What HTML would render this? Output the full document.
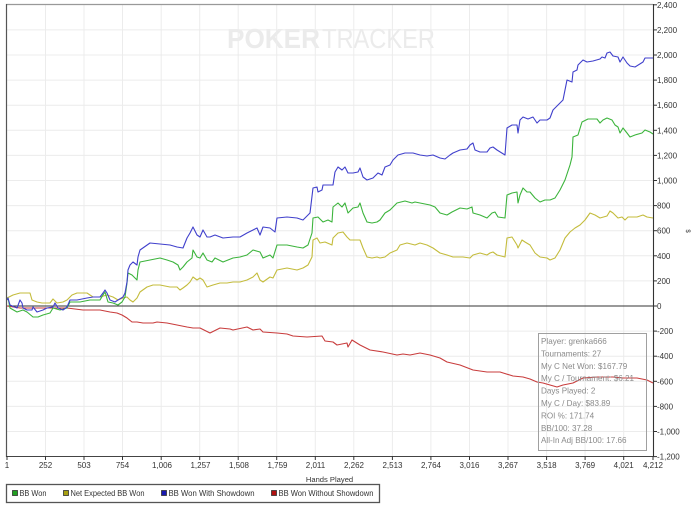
<!DOCTYPE html>
<html><head><meta charset="utf-8"><style>
html,body{margin:0;padding:0;background:#fff;}
svg{display:block;font-family:"Liberation Sans",sans-serif;}
</style></head><body>
<svg width="700" height="509" viewBox="0 0 700 509" xmlns="http://www.w3.org/2000/svg">
<rect width="700" height="509" fill="#fff"/>
<!-- watermark -->
<text x="227" y="48" font-size="28" font-weight="bold" fill="#ebebeb" textLength="93" lengthAdjust="spacingAndGlyphs">POKER</text>
<text x="322" y="48" font-size="28" fill="#ebebeb" textLength="113" lengthAdjust="spacingAndGlyphs">TRACKER</text>
<!-- horizontal gridlines -->
<g stroke="#ececec" stroke-width="1">
<line x1="7" x2="653" y1="29.9" y2="29.9"/><line x1="7" x2="653" y1="55" y2="55"/>
<line x1="7" x2="653" y1="80.1" y2="80.1"/><line x1="7" x2="653" y1="105.2" y2="105.2"/>
<line x1="7" x2="653" y1="130.3" y2="130.3"/><line x1="7" x2="653" y1="155.4" y2="155.4"/>
<line x1="7" x2="653" y1="180.5" y2="180.5"/><line x1="7" x2="653" y1="205.6" y2="205.6"/>
<line x1="7" x2="653" y1="230.7" y2="230.7"/><line x1="7" x2="653" y1="255.8" y2="255.8"/>
<line x1="7" x2="653" y1="280.9" y2="280.9"/><line x1="7" x2="653" y1="331.1" y2="331.1"/>
<line x1="7" x2="653" y1="356.2" y2="356.2"/><line x1="7" x2="653" y1="381.3" y2="381.3"/>
<line x1="7" x2="653" y1="406.4" y2="406.4"/><line x1="7" x2="653" y1="431.5" y2="431.5"/>
</g>
<!-- vertical gridlines -->
<g stroke="#ececec" stroke-width="1">
<line y1="5" y2="456" x1="45.5" x2="45.5"/><line y1="5" y2="456" x1="84" x2="84"/>
<line y1="5" y2="456" x1="122.5" x2="122.5"/><line y1="5" y2="456" x1="161.2" x2="161.2"/>
<line y1="5" y2="456" x1="199.7" x2="199.7"/><line y1="5" y2="456" x1="238.2" x2="238.2"/>
<line y1="5" y2="456" x1="276.7" x2="276.7"/><line y1="5" y2="456" x1="315.3" x2="315.3"/>
<line y1="5" y2="456" x1="353.8" x2="353.8"/><line y1="5" y2="456" x1="392.4" x2="392.4"/>
<line y1="5" y2="456" x1="430.9" x2="430.9"/><line y1="5" y2="456" x1="469.5" x2="469.5"/>
<line y1="5" y2="456" x1="508" x2="508"/><line y1="5" y2="456" x1="546.6" x2="546.6"/>
<line y1="5" y2="456" x1="585.1" x2="585.1"/><line y1="5" y2="456" x1="623.7" x2="623.7"/>
</g>
<!-- zero line -->
<line x1="7" x2="653" y1="306" y2="306" stroke="#333" stroke-width="1.1"/>
<!-- series -->
<g fill="none" stroke-width="1.1" stroke-linejoin="round">
<polyline stroke="#c83c3c" points="7,306 20,308 33,308 67,308 83,310 100,310 110,312 117,313 122,315 127,318 132,322 137,322 143,323 153,323 157,322 167,323 177,325 187,327 193,328 200,328 210,333 220,328 230,329 233,330 247,327 253,330 260,329 263,332 277,333 287,334 293,336 307,337 322,336 325,341 333,342 337,345 347,343 348,347 352,340 360,345 370,350 383,352 397,355 403,354 410,355 420,353 430,355 440,358 447,362 460,365 473,370 487,372 500,372 513,376 523,377 530,379 537,382 543,383 550,385 557,387 563,385 573,383 583,378 597,377 613,377 623,378 637,378 647,380 653,383"/>
<polyline stroke="#c4bc3c" points="7,298 13,295 20,293 30,293 32,300 37,302 42,303 50,303 53,299 57,303 63,302 67,300 72,295 77,293 87,293 93,297 100,297 107,295 113,297 118,300 123,298 127,297 130,300 133,302 137,298 140,292 147,287 153,285 160,285 170,287 177,287 180,290 183,288 187,285 190,282 193,277 197,280 200,278 203,280 207,287 213,285 220,283 227,283 233,282 240,282 247,280 253,277 257,273 260,280 263,282 270,277 273,278 277,270 287,268 297,270 303,268 308,265 312,257 313,240 317,238 320,243 325,242 332,245 333,238 338,233 343,232 347,237 350,240 360,240 363,248 367,257 372,258 377,257 380,258 385,257 390,253 397,250 400,245 407,243 415,245 420,243 427,245 433,248 440,253 447,255 453,257 463,257 470,258 473,255 480,253 487,255 490,253 493,252 497,255 505,257 507,238 512,237 517,245 518,248 522,240 525,242 530,245 535,253 540,257 547,258 550,260 555,258 560,250 565,238 570,232 575,228 580,225 585,220 590,213 595,215 600,218 607,216 610,211 613,213 618,218 622,217 625,220 628,217 637,217 643,215 647,217 653,218"/>
<polyline stroke="#3cb43c" points="7,300 8,298 10,308 17,312 23,310 27,312 33,317 38,317 43,315 50,313 53,308 60,310 67,308 70,302 80,302 90,300 100,300 103,295 105,292 108,302 113,303 118,305 122,302 125,297 127,283 128,273 132,275 135,278 137,280 138,270 140,262 150,260 160,258 167,260 173,262 178,265 180,270 183,267 187,262 192,258 193,250 197,257 200,258 203,253 207,260 212,262 215,258 223,262 233,258 240,257 247,255 253,250 260,252 263,258 270,255 273,258 277,245 287,245 297,247 303,248 308,245 312,233 313,218 318,217 323,222 328,220 332,222 333,207 338,203 342,207 345,203 348,213 353,208 358,207 360,203 363,213 367,222 372,223 377,222 380,220 385,213 390,210 397,203 405,201 412,203 415,202 420,203 430,205 435,207 440,213 447,215 452,212 460,208 467,209 472,207 473,213 480,215 487,218 492,213 495,212 498,217 505,218 507,195 512,193 517,192 518,203 520,195 523,188 527,192 530,192 535,198 540,202 545,200 550,200 555,198 560,190 565,180 570,165 572,157 573,137 578,135 582,122 588,119 597,119 600,123 603,120 607,118 612,120 615,125 618,127 620,133 623,128 627,133 630,137 635,135 642,133 645,130 650,132 653,134"/>
<polyline stroke="#4040cc" points="7,300 8,298 10,305 17,308 20,300 22,303 23,308 27,310 32,310 33,307 37,312 43,310 47,308 53,307 55,303 58,308 63,310 67,307 70,300 77,300 87,298 93,297 100,297 103,293 105,290 107,293 110,300 115,302 118,300 123,297 125,293 127,282 128,270 130,265 133,262 137,265 138,257 140,250 150,243 170,245 177,247 183,248 187,238 190,233 193,227 197,235 200,237 203,230 207,237 210,237 215,235 223,238 233,237 240,237 247,233 257,228 260,235 263,227 270,228 275,232 277,218 287,217 297,218 303,220 310,213 313,188 317,187 318,192 322,190 323,185 333,185 335,172 338,167 342,170 345,167 348,173 353,173 358,172 360,168 363,177 367,180 373,178 378,173 382,175 385,167 390,165 393,160 398,155 405,153 413,153 420,155 427,156 433,155 440,158 445,159 450,155 453,153 460,150 467,149 470,145 473,143 475,150 480,152 487,152 490,148 493,147 497,150 505,155 507,128 512,125 517,125 518,133 520,120 523,117 528,119 533,117 537,123 540,120 547,120 550,118 553,110 558,105 560,103 563,100 567,80 572,82 573,72 577,70 578,65 583,60 587,62 593,61 600,59 602,57 605,58 607,53 610,52 613,56 618,57 620,62 623,57 627,63 630,66 635,67 643,62 645,58 653,58"/>
</g>
<!-- frame -->
<line x1="6" x2="653" y1="4.5" y2="4.5" stroke="#999" stroke-width="1.3"/>
<line x1="6.5" x2="6.5" y1="4" y2="457" stroke="#555" stroke-width="1.2"/>
<line x1="6" x2="654" y1="456.5" y2="456.5" stroke="#444" stroke-width="1.1"/>
<line x1="653.5" x2="653.5" y1="4" y2="457" stroke="#333" stroke-width="1.1"/>
<!-- right ticks -->
<g stroke="#333" stroke-width="1">
<line x1="653" x2="657" y1="4.8" y2="4.8"/><line x1="653" x2="657" y1="29.9" y2="29.9"/>
<line x1="653" x2="657" y1="55" y2="55"/><line x1="653" x2="657" y1="80.1" y2="80.1"/>
<line x1="653" x2="657" y1="105.2" y2="105.2"/><line x1="653" x2="657" y1="130.3" y2="130.3"/>
<line x1="653" x2="657" y1="155.4" y2="155.4"/><line x1="653" x2="657" y1="180.5" y2="180.5"/>
<line x1="653" x2="657" y1="205.6" y2="205.6"/><line x1="653" x2="657" y1="230.7" y2="230.7"/>
<line x1="653" x2="657" y1="255.8" y2="255.8"/><line x1="653" x2="657" y1="280.9" y2="280.9"/>
<line x1="653" x2="657" y1="306" y2="306"/><line x1="653" x2="657" y1="331.1" y2="331.1"/>
<line x1="653" x2="657" y1="356.2" y2="356.2"/><line x1="653" x2="657" y1="381.3" y2="381.3"/>
<line x1="653" x2="657" y1="406.4" y2="406.4"/><line x1="653" x2="657" y1="431.5" y2="431.5"/>
<line x1="653" x2="657" y1="456.6" y2="456.6"/>
</g>
<g font-size="8" fill="#333">
<text x="657" y="7.8">2,400</text><text x="657" y="32.9">2,200</text>
<text x="657" y="58">2,000</text><text x="657" y="83.1">1,800</text>
<text x="657" y="108.2">1,600</text><text x="657" y="133.3">1,400</text>
<text x="657" y="158.4">1,200</text><text x="657" y="183.5">1,000</text>
<text x="657" y="208.6">800</text><text x="657" y="233.7">600</text>
<text x="657" y="258.8">400</text><text x="657" y="283.9">200</text>
<text x="657" y="309">0</text><text x="657" y="334.1">-200</text>
<text x="657" y="359.2">-400</text><text x="657" y="384.3">-600</text>
<text x="657" y="409.4">-800</text><text x="657" y="434.5">-1,000</text>
<text x="657" y="459.6">-1,200</text>
</g>
<text x="688" y="233" font-size="6" fill="#333" transform="rotate(90 688 231)" text-anchor="middle">$</text>
<!-- x ticks -->
<g stroke="#333" stroke-width="1">
<line y1="456" y2="460" x1="7" x2="7"/><line y1="456" y2="460" x1="45.5" x2="45.5"/>
<line y1="456" y2="460" x1="84" x2="84"/><line y1="456" y2="460" x1="122.5" x2="122.5"/>
<line y1="456" y2="460" x1="161.2" x2="161.2"/><line y1="456" y2="460" x1="199.7" x2="199.7"/>
<line y1="456" y2="460" x1="238.2" x2="238.2"/><line y1="456" y2="460" x1="276.7" x2="276.7"/>
<line y1="456" y2="460" x1="315.3" x2="315.3"/><line y1="456" y2="460" x1="353.8" x2="353.8"/>
<line y1="456" y2="460" x1="392.4" x2="392.4"/><line y1="456" y2="460" x1="430.9" x2="430.9"/>
<line y1="456" y2="460" x1="469.5" x2="469.5"/><line y1="456" y2="460" x1="508" x2="508"/>
<line y1="456" y2="460" x1="546.6" x2="546.6"/><line y1="456" y2="460" x1="585.1" x2="585.1"/>
<line y1="456" y2="460" x1="623.7" x2="623.7"/><line y1="456" y2="460" x1="653" x2="653"/>
</g>
<g font-size="8" fill="#333" text-anchor="middle">
<text x="7" y="468">1</text><text x="45.5" y="468">252</text><text x="84" y="468">503</text>
<text x="122.5" y="468">754</text><text x="162" y="468">1,006</text><text x="200.5" y="468">1,257</text>
<text x="239" y="468">1,508</text><text x="277.5" y="468">1,759</text><text x="315.5" y="468">2,011</text>
<text x="354" y="468">2,262</text><text x="392.5" y="468">2,513</text><text x="431" y="468">2,764</text>
<text x="469.5" y="468">3,016</text><text x="508" y="468">3,267</text><text x="546.6" y="468">3,518</text>
<text x="585.1" y="468">3,769</text><text x="623.7" y="468">4,021</text><text x="653" y="468">4,212</text>
</g>
<text x="329.5" y="482" font-size="7.6" fill="#333" text-anchor="middle">Hands Played</text>
<!-- stats box -->
<rect x="538.5" y="333.5" width="108" height="117" fill="none" stroke="#a0a0a0" stroke-width="1"/>
<g font-size="8.1" fill="#8a8a8a">
<text x="541" y="344">Player: grenka666</text>
<text x="541" y="356.4">Tournaments: 27</text>
<text x="541" y="368.8">My C Net Won: $167.79</text>
<text x="541" y="381.2">My C / Tournament: $6.21</text>
<text x="541" y="393.6">Days Played: 2</text>
<text x="541" y="406">My C / Day: $83.89</text>
<text x="541" y="418.4">ROI %: 171.74</text>
<text x="541" y="430.8">BB/100: 37.28</text>
<text x="541" y="443.2">All-In Adj BB/100: 17.66</text>
</g>
<!-- legend -->
<rect x="6.5" y="484.5" width="373" height="18" fill="#fff" stroke="#555" stroke-width="1.3"/>
<g stroke="#333" stroke-width="0.8">
<rect x="12.5" y="490.5" width="5" height="5" fill="#22a022"/>
<rect x="63.5" y="490.5" width="5" height="5" fill="#a8a010"/>
<rect x="161.5" y="490.5" width="5" height="5" fill="#1818b0"/>
<rect x="271.5" y="490.5" width="5" height="5" fill="#b01010"/>
</g>
<g font-size="8" fill="#333">
<text x="19.5" y="496" textLength="27" lengthAdjust="spacingAndGlyphs">BB Won</text>
<text x="70.5" y="496" textLength="74" lengthAdjust="spacingAndGlyphs">Net Expected BB Won</text>
<text x="168.5" y="496" textLength="86" lengthAdjust="spacingAndGlyphs">BB Won With Showdown</text>
<text x="278.5" y="496" textLength="95" lengthAdjust="spacingAndGlyphs">BB Won Without Showdown</text>
</g>
</svg>
</body></html>
